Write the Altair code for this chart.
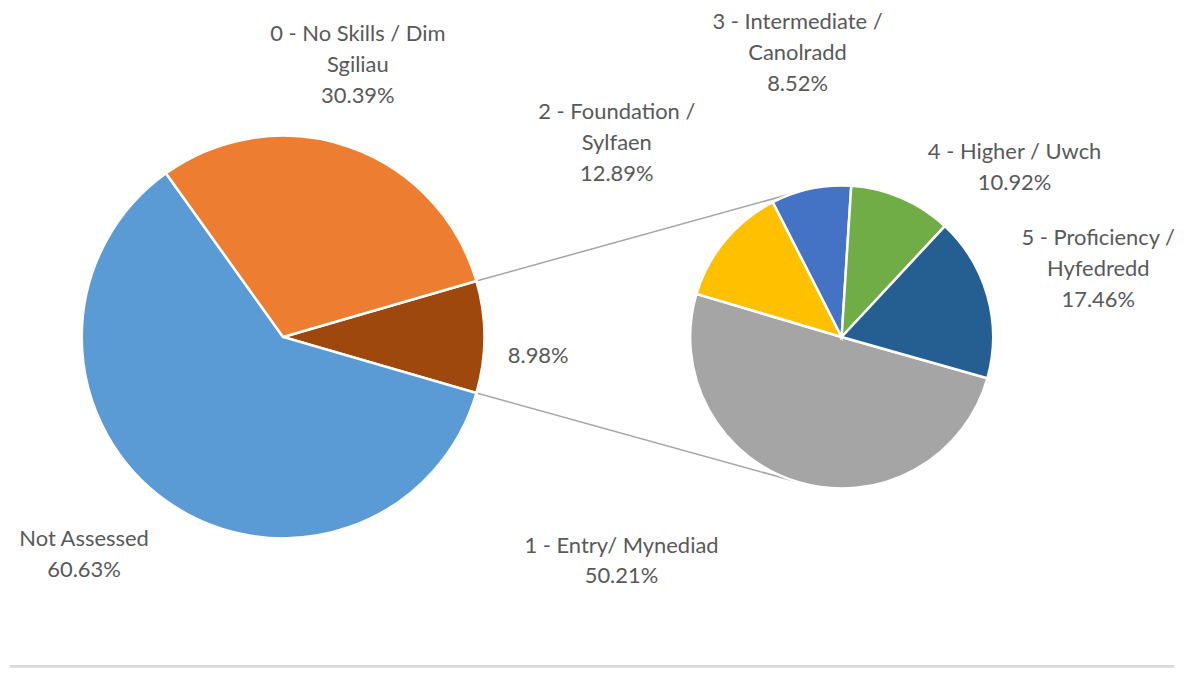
import math
import altair as alt
import pandas as pd

# ---- data ----
left_cats = ["Other", "Not Assessed", "0 - No Skills / Dim Sgiliau"]
left_vals = [8.98, 60.63, 30.39]
left_text = ["", "Not Assessed", "0 - No Skills / Dim\nSgiliau"]
left_colors = ["#9E480E", "#5B9BD5", "#ED7D31"]

right_cats = ["1 - Entry/ Mynediad", "2 - Foundation / Sylfaen", "3 - Intermediate / Canolradd",
              "4 - Higher / Uwch", "5 - Proficiency / Hyfedredd"]
right_vals = [50.21, 12.89, 8.52, 10.92, 17.46]
right_text = ["1 - Entry/ Mynediad", "2 - Foundation /\nSylfaen", "3 - Intermediate /\nCanolradd",
              "4 - Higher / Uwch", "5 - Proficiency /\nHyfedredd"]
right_colors = ["#A5A5A5", "#FFC000", "#4472C4", "#70AD47", "#255E91"]

# ---- layout ----
W, H = 1168, 661
CX1, CY1, R1 = 274, 329, 202
CX2, CY2, R2 = 834.5, 329, 152
LEFT_START = math.radians(90 - left_vals[0] * 3.6 / 2)   # "Other" slice centred on the right
RIGHT_START = math.radians(105.8)
RIGHT_CONNECT = math.radians(15.8)
FONT = "Lato"
FS = 22
LH = 31
TXT = "#595959"

# label placement: (radius, dx, dy) of the label block centre
left_lab = [(256, 0, 18), (266, -46, 0), (290, -20, 0)]
right_lab = [(233, -156, 0), (300, 5, -4), (292, 15, 0), (186, 100, 0), (257, 10, 0)]


def make_df(cats, vals, texts):
    labels = []
    for t, v in zip(texts, vals):
        pct = f"{v:.2f}%"
        labels.append(pct if not t else t + "\n" + pct)
    return pd.DataFrame({"cat": cats, "value": vals, "idx": list(range(len(cats))), "label": labels})


def pie(df, cats, colors, cx, cy, r, start, labs):
    tscale = alt.Scale(domain=[0, 100], range=[start, start + 2 * math.pi])
    arcs = alt.Chart(df).mark_arc(outerRadius=r, stroke="white", strokeWidth=2.5).encode(
        theta=alt.Theta("value:Q", stack=True, scale=tscale),
        color=alt.Color("cat:N", scale=alt.Scale(domain=cats, range=colors), legend=None),
        order=alt.Order("idx:Q"),
        x=alt.value(cx), y=alt.value(cy),
    )
    layers = [arcs]
    for cat, lab, (rad, dx, dy) in zip(cats, df["label"], labs):
        n = lab.count("\n") + 1
        t = alt.Chart(df).transform_window(
            cum="sum(value)", sort=[alt.SortField("idx")], frame=[None, 0]
        ).transform_calculate(
            mid="datum.cum - datum.value / 2"
        ).transform_filter(
            alt.datum.cat == cat
        ).mark_text(
            radius=rad, dx=dx, dy=dy - (n - 1) * LH / 2 + 1, font=FONT, fontSize=FS, color=TXT,
            lineBreak="\n", lineHeight=LH, align="center", baseline="middle",
        ).encode(
            theta=alt.Theta("mid:Q", stack=None, scale=tscale),
            text=alt.Text("label:N"),
            x=alt.value(cx), y=alt.value(cy),
        )
        layers.append(t)
    return alt.layer(*layers)


left_df = make_df(left_cats, left_vals, left_text)
right_df = make_df(right_cats, right_vals, right_text)

left = pie(left_df, left_cats, left_colors, CX1, CY1, R1, LEFT_START, left_lab)
right = pie(right_df, right_cats, right_colors, CX2, CY2, R2, RIGHT_START, right_lab)

# connector lines from the "Other" slice edges to the secondary pie
a0 = LEFT_START
a1 = LEFT_START + math.radians(left_vals[0] * 3.6)
b0 = 2 * math.pi - RIGHT_CONNECT
b1 = math.pi + RIGHT_CONNECT
conn = pd.DataFrame({
    "x": [CX1 + R1 * math.sin(a0), CX1 + R1 * math.sin(a1)],
    "y": [CY1 - R1 * math.cos(a0), CY1 - R1 * math.cos(a1)],
    "x2": [CX2 + R2 * math.sin(b0), CX2 + R2 * math.sin(b1)],
    "y2": [CY2 - R2 * math.cos(b0), CY2 - R2 * math.cos(b1)],
})
lines = alt.Chart(conn).mark_rule(color="#A5A5A5", strokeWidth=1.5).encode(
    x=alt.X("x:Q", scale=None), y=alt.Y("y:Q", scale=None),
    x2="x2:Q", y2="y2:Q",
)

border = alt.Chart(pd.DataFrame({"a": [0]})).mark_rule(color="#D9D9D9", strokeWidth=3).encode(
    x=alt.value(0), x2=alt.value(W), y=alt.value(H - 1.5)
)

chart = alt.layer(lines, left, right, border).resolve_scale(
    theta="independent", color="independent"
).properties(width=W, height=H, padding=0).configure_view(stroke=None)

chart.save("out.html", embed_options={"renderer": "svg", "actions": False})
